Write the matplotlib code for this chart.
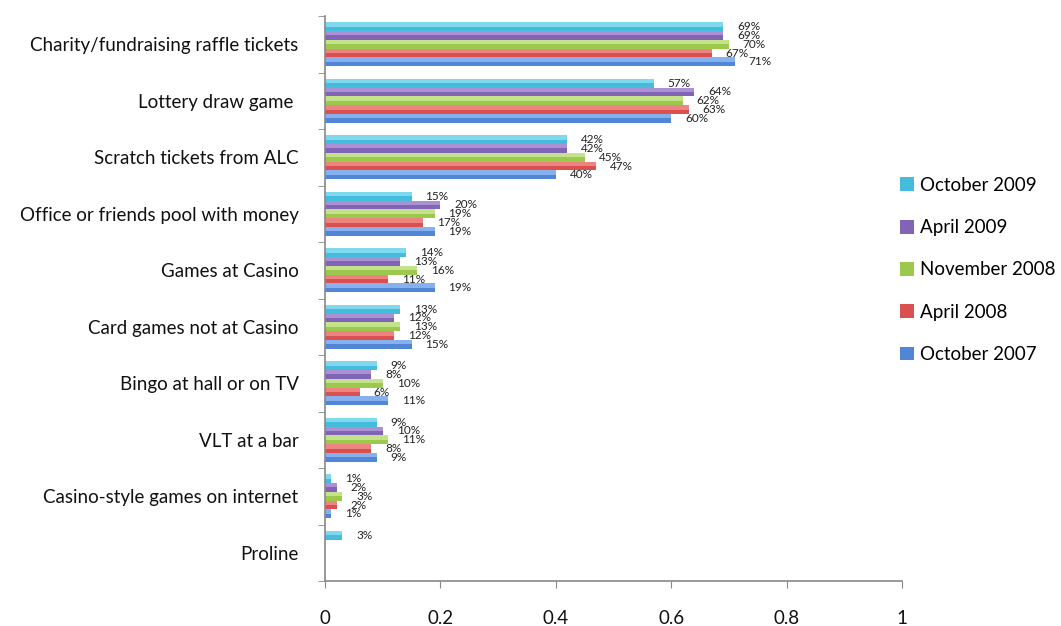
import matplotlib.pyplot as plt
import numpy as np

categories = [
    "Charity/fundraising raffle tickets", "Lottery draw game ",
    "Scratch tickets from ALC", "Office or friends pool with money",
    "Games at Casino", "Card games not at Casino", "Bingo at hall or on TV",
    "VLT at a bar", "Casino-style games on internet", "Proline",
]
series_names = ["October 2009", "April 2009", "November 2008", "April 2008", "October 2007"]
oct_2009 = [69, 57, 42, 15, 14, 13, 9, 9, 1, 3]
apr_2009 = [69, 64, 42, 20, 13, 12, 8, 10, 2, np.nan]
nov_2008 = [70, 62, 45, 19, 16, 13, 10, 11, 3, np.nan]
apr_2008 = [67, 63, 47, 17, 11, 12, 6, 8, 2, np.nan]
oct_2007 = [71, 60, 40, 19, 19, 15, 11, 9, 1, np.nan]
series = [oct_2009, apr_2009, nov_2008, apr_2008, oct_2007]

# (light top, darker bottom) to fake the Excel gradient
colors = [('#7fd9ee', '#45bcdb'), ('#ab90d4', '#8264b6'), ('#c2e38a', '#9cc84e'),
          ('#ee8482', '#d9504e'), ('#86b0ee', '#5185d6')]

plt.rcParams['font.family'] = ['Lato', 'DejaVu Sans']

fig = plt.figure(figsize=(10.61, 6.26), dpi=100)
ax = fig.add_axes([325 / 1061, 1 - 581 / 626, 577 / 1061, 565 / 626])

y = np.arange(len(categories))
h = 0.156
for k, (name, vals, (c1, c2)) in enumerate(zip(series_names, series, colors)):
    vals = np.array(vals, dtype=float) / 100
    pos = y - 2 * h + k * h
    ax.barh(pos, vals, height=h, color=c2, edgecolor='none', label=name)
    ax.barh(pos - h / 4, vals, height=h / 2, color=c1, edgecolor='none')
    for p, v in zip(pos, vals):
        if np.isnan(v):
            continue
        ax.annotate(f"{int(round(v * 100))}%", (v, p), xytext=(10, 0),
                    textcoords='offset points', va='center', ha='left',
                    fontsize=8.5, color='#222222')

ax.set_xlim(0, 1)
ax.set_ylim(len(categories) - 0.5, -0.5)
ax.set_xticks([0, 0.2, 0.4, 0.6, 0.8, 1])
ax.set_xticklabels(["0", "0.2", "0.4", "0.6", "0.8", "1"])
ax.set_yticks(y)
ax.set_yticklabels(categories)
ax.set_yticks(np.arange(-0.5, len(categories)), minor=True)
ax.tick_params(axis='y', which='major', length=0, pad=19, labelsize=13.5, labelcolor='#111111')
ax.tick_params(axis='y', which='minor', length=5, color='#888888')
ax.tick_params(axis='x', length=5, color='#888888', pad=16, labelsize=13.5, labelcolor='#111111')

for s in ['top', 'right']:
    ax.spines[s].set_visible(False)
for s in ['left', 'bottom']:
    ax.spines[s].set_color('#888888')
    ax.spines[s].set_linewidth(1.2)

fig.legend(loc='center left', bbox_to_anchor=(900 / 1061, 1 - 270 / 626),
           frameon=False, fontsize=13.5, handlelength=0.75, handleheight=0.75,
           handletextpad=0.3, labelspacing=1.35, borderpad=0, borderaxespad=0)

plt.savefig("out.png", dpi=100, facecolor='white')
plt.close()
